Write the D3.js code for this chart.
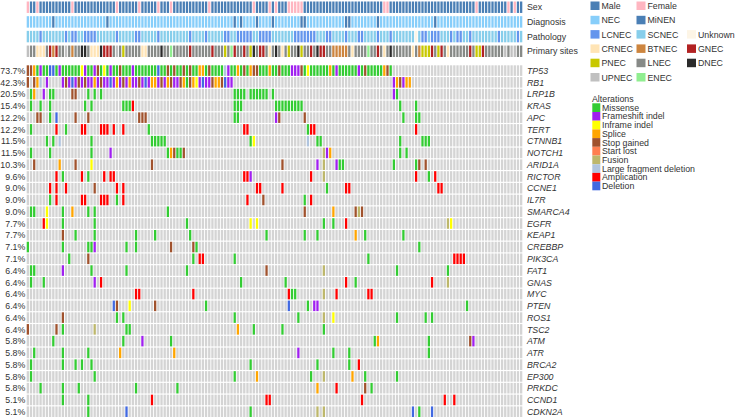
<!DOCTYPE html>
<html><head><meta charset="utf-8">
<script src="https://cdn.jsdelivr.net/npm/d3@7"></script>
<style>body{margin:0;background:#fff;} svg{display:block;font-family:"Liberation Sans",Arial,sans-serif;}</style>
</head><body><svg id="c" width="735" height="419"></svg>
<script>
const N = 156;
const genes = ["TP53","RB1","LRP1B","KRAS","APC","TERT","CTNNB1","NOTCH1","ARID1A","RICTOR","CCNE1","IL7R","SMARCA4","EGFR","KEAP1","CREBBP","PIK3CA","FAT1","GNAS","MYC","PTEN","ROS1","TSC2","ATM","ATR","BRCA2","EP300","PRKDC","CCND1","CDKN2A"];
const pctLabels = ["73.7%","42.3%","20.5%","15.4%","12.2%","12.2%","11.5%","11.5%","10.3%","9.6%","9.0%","9.0%","9.0%","7.7%","7.7%","7.1%","7.1%","6.4%","6.4%","6.4%","6.4%","6.4%","6.4%","5.8%","5.8%","5.8%","5.8%","5.8%","5.1%","5.1%"];
const altCodes = ["M","F","I","S","X","T","U","L","A","D"];
const altLabels = ["Missense","Frameshift indel","Inframe indel","Splice","Stop gained","Start lost","Fusion","Large fragment deletion","Amplication","Deletion"];
const altColors = ["#33cc33","#a020f0","#ffff00","#ffa500","#a0522d","#ff7f50","#bdb76b","#b0c4de","#ff0000","#4169e1"];

// per gene: "startColumn:codes" ('.' = not altered)
const geneAlts = [
 ["0:XXSMFMMDDM","10:FMMMMMMIFM","20:MFXMIMFMMX","30:MMMFMMMMMM","40:MDMMXMXMM","49:XMXMMSSMXM","59:MMMLFMMSMX","69:MSXXMMMSMM","79:XMMMFFFXMI","89:MMMMMMSMFM","99:MMMMMFMXMM","109:MMMSXM"],
 ["0:X.XSL.F....","11:FXFDFXFXFF","21:SFXFFDFSFX","31:FSFFXFDFSS","41:FXFSXFF","48:XSMXSIFDFFXSSXDFF","115:FSXFSS"],
 ["1:MS","5:F","7:MM","14:XX","19:M","21:M","23:M","65:MMMM","70:MMMMMM","77:M","115:FM"],
 ["1:M","4:M","7:M","18:M","20:M","30:MMMA","65:MMM","78:MMMMMMMMM","117:M","122:M"],
 ["3:XX","7:M","9:D","15:X","19:X","35:XXX","65:MM","78:FX","87:X","118:M","122:MM"],
 ["1:M","9:A","12:M","17:AA","23:AAA","27:A","30:A","38:M","68:AA","88:MAA","122:A"],
 ["6:M","8:M","10:L","20:M","39:MMMMM","70:MI","88:L","91:MM","117:M","124:MMM"],
 ["1:M","7:M","20:M","26:F","44:MSXMMX","93:UFS","117:M","119:M"],
 ["2:X","10:S","15:X","20:I","39:X","80:X","91:F","93:U","97:FMM","115:M","122:MX","125:X"],
 ["9:A","11:M","17:A","19:M","24:A","26:AA","68:AAF","89:A","93:U","122:A","126:M","128:A"],
 ["7:A","9:A","12:A","21:X","28:A","30:A","72:AA","80:A","94:M","100:AA","129:AA"],
 ["7:M","9:A","17:AA","23:AAA","28:M","30:A","69:A","74:X","87:M","89:A"],
 ["1:MM","6:I","11:M","14:S","19:M","21:M","44:M","87:X","96:S","103:XUX"],
 ["5:AI","11:M","21:M","50:M","70:I","72:I","93:M","96:M","100:A","132:UI"],
 ["11:X","15:M","21:M","34:M","40:M","51:M","75:M","87:M","91:M","103:S","106:M","118:M"],
 ["0:M","11:M","19:MMF","31:M","34:M","45:X","52:XM","123:M"],
 ["13:M","19:X","52:M","54:AA","65:M","107:M","134:AAAA"],
 ["1:MM","11:F","20:M","31:M","50:M","75:X","93:U","116:M","132:M"],
 ["1:M","5:M","21:F","23:A","67:M","81:M","100:A","103:M","127:A","132:U"],
 ["34:AA","52:A","82:AMM","93:U","97:A","107:AA"],
 ["27:DX","32:I","40:X","56:M","82:D","88:M","90:FF","138:M"],
 ["11:X","28:M","30:M","65:M","85:M","93:U","96:I","116:M","125:M","127:M"],
 ["0:X","9:X","11:M","21:U","31:MM","66:S","71:M","80:M","93:M"],
 ["8:M","30:M","36:F","45:M","109:MS","126:M","139:XF"],
 ["2:M","11:M","19:M","29:S","46:S","85:F","96:M","101:M","126:M"],
 ["1:M","11:M","15:M","17:M","20:M","70:M","91:M","101:M","104:A"],
 ["1:M","21:M","65:M","72:S","89:M","93:U","102:S","106:M","116:M"],
 ["4:M","11:M","16:M","34:M","47:M","91:S","97:A","106:X","108:M"],
 ["11:M","19:M","39:A","75:AA","105:A","131:A","134:A"],
 ["19:M","31:D","70:M","91:U","93:U","121:D","123:M","127:D"]
];

// annotation tracks
const trackNames = ["Sex","Diagnosis","Pathology","Primary sites"];
const sexCodes = ["M","F"], sexLabels = ["Male","Female"], sexColors = ["#4a7fb5","#ffb6c1"];
const diagCodes = ["N","m"], diagLabels = ["NEC","MiNEN"], diagColors = ["#87cefa","#4a7fb5"];
const pathCodes = ["L","S","U"], pathLabels = ["LCNEC","SCNEC","Unknown"], pathColors = ["#6495ed","#87ceeb","#fdf5e6"];
const siteCodes = ["C","B","G","P","L","D","U","E"], siteLabels = ["CRNEC","BTNEC","GNEC","PNEC","LNEC","DNEC","UPNEC","ENEC"], siteColors = ["#ffe4b5","#cd853f","#b22222","#c8c800","#878a87","#2b2b2b","#c0c0c0","#90ee90"];

const sexTokens = ["0:F","3:F","14:F","28:F","35:F","41:F","45:F","57:F","71:F","76:F","78:F","82:FFFFF","112:FF","141:F","151:F","153:F"];
const diagTokens = ["8:m","25:m","65:m","67:m","72:m","77:m","86:mm","100:mm","110:m","128:m"];
const pathTokens = ["4:L","12:L","14:LL","18:LLLL","28:L","34:LL","41:L","51:L","56:L","62:LL","66:LLLLL","73:LLLL","84:LLLLLLL","94:LL","100:L","104:LL","110:L","114:L","122:U","124:LL","127:LLL","133:L","135:LL","139:L","148:L","154:L"];
const siteTokens = ["0:UL","3:CCC","6:L","7:GBG","11:LU","14:B","17:DD","20:CCC","23:DGGG","28:U","30:P","36:CC","41:LDL","45:E","51:G","58:G","62:P","64:E","65:G","68:G","70:PD","73:GG","76:C","78:D","80:C","82:P","85:D","86:P","89:G","91:D","92:GG","96:BBBBB","102:C","107:E","110:G","112:C","114:D","121:C","123:B","124:PPP","127:G","129:P","130:G","132:C","139:G","141:PP","143:G","150:U","152:UU"];

function expand(tokens, def) {
  const arr = new Array(N).fill(def);
  tokens.forEach(t => { const i = t.indexOf(":"); const s = +t.slice(0, i);
    [...t.slice(i + 1)].forEach((c, k) => { arr[s + k] = c; }); });
  return arr;
}
const sexArr = expand(sexTokens, "M");
const diagArr = expand(diagTokens, "N");
const pathArr = expand(pathTokens, "S");
const siteArr = expand(siteTokens, "L");

const FS = 8.8;
const svg = d3.select("#c");
const x = d3.scaleBand().domain(d3.range(N)).range([26.7, 522.3]).paddingInner(0.28);
const y = d3.scaleBand().domain(genes).range([65.3, 417]).paddingInner(0.1);
const ty = d3.scaleBand().domain(trackNames).range([1.5, 57]).paddingInner(0.22);

const altColor = d3.scaleOrdinal(altCodes, altColors);
const trackData = [
  {name: "Sex", arr: sexArr, color: d3.scaleOrdinal(sexCodes, sexColors)},
  {name: "Diagnosis", arr: diagArr, color: d3.scaleOrdinal(diagCodes, diagColors)},
  {name: "Pathology", arr: pathArr, color: d3.scaleOrdinal(pathCodes, pathColors)},
  {name: "Primary sites", arr: siteArr, color: d3.scaleOrdinal(siteCodes, siteColors)}
];

trackData.forEach(t => {
  svg.append("g").selectAll("rect").data(t.arr).join("rect")
    .attr("x", (d, i) => x(i)).attr("y", ty(t.name))
    .attr("width", x.bandwidth()).attr("height", ty.bandwidth())
    .attr("fill", d => t.color(d));
  svg.append("text").attr("x", 527).attr("y", ty(t.name) + ty.bandwidth() / 2 + 3.2)
    .attr("font-size", FS).attr("fill", "#333").text(t.name);
});

genes.forEach((g, gi) => {
  const arr = expand(geneAlts[gi], ".");
  svg.append("g").selectAll("rect").data(arr).join("rect")
    .attr("x", (d, i) => x(i)).attr("y", y(g))
    .attr("width", x.bandwidth()).attr("height", y.bandwidth())
    .attr("fill", d => d === "." ? "#d4d4d4" : altColor(d));
  svg.append("text").attr("x", 25.3).attr("y", y(g) + y.bandwidth() / 2 + 3.2)
    .attr("text-anchor", "end").attr("font-size", FS).attr("fill", "#333").text(pctLabels[gi]);
  svg.append("text").attr("x", 527).attr("y", y(g) + y.bandwidth() / 2 + 3.2)
    .attr("font-size", FS).attr("font-style", "italic").attr("fill", "#333").text(g);
});

const legItems = [
  [[sexLabels[0], sexColors[0]], [sexLabels[1], sexColors[1]]],
  [[diagLabels[0], diagColors[0]], [diagLabels[1], diagColors[1]]],
  [[pathLabels[0], pathColors[0]], [pathLabels[1], pathColors[1]], [pathLabels[2], pathColors[2]]],
  [[siteLabels[0], siteColors[0]], [siteLabels[1], siteColors[1]], [siteLabels[2], siteColors[2]]],
  [[siteLabels[3], siteColors[3]], [siteLabels[4], siteColors[4]], [siteLabels[5], siteColors[5]]],
  [[siteLabels[6], siteColors[6]], [siteLabels[7], siteColors[7]]]
];
const legX = [590.5, 636.5, 687];
legItems.forEach((rowItems, r) => {
  rowItems.forEach((it, c) => {
    const yy = 1.5 + r * 14.3;
    svg.append("rect").attr("x", legX[c]).attr("y", yy).attr("width", 9).attr("height", 8.5).attr("fill", it[1]);
    svg.append("text").attr("x", legX[c] + 11).attr("y", yy + 7.6).attr("font-size", FS).attr("fill", "#333").text(it[0]);
  });
});

svg.append("text").attr("x", 592).attr("y", 101.5).attr("font-size", FS).attr("fill", "#333").text("Alterations");
altLabels.forEach((l, i) => {
  const yy = 103.3 + i * 8.7;
  svg.append("rect").attr("x", 592.3).attr("y", yy).attr("width", 8).attr("height", 8.7).attr("fill", altColors[i]);
  svg.append("text").attr("x", 602).attr("y", yy + 7.4).attr("font-size", FS).attr("fill", "#333").text(l);
});
</script></body></html>
